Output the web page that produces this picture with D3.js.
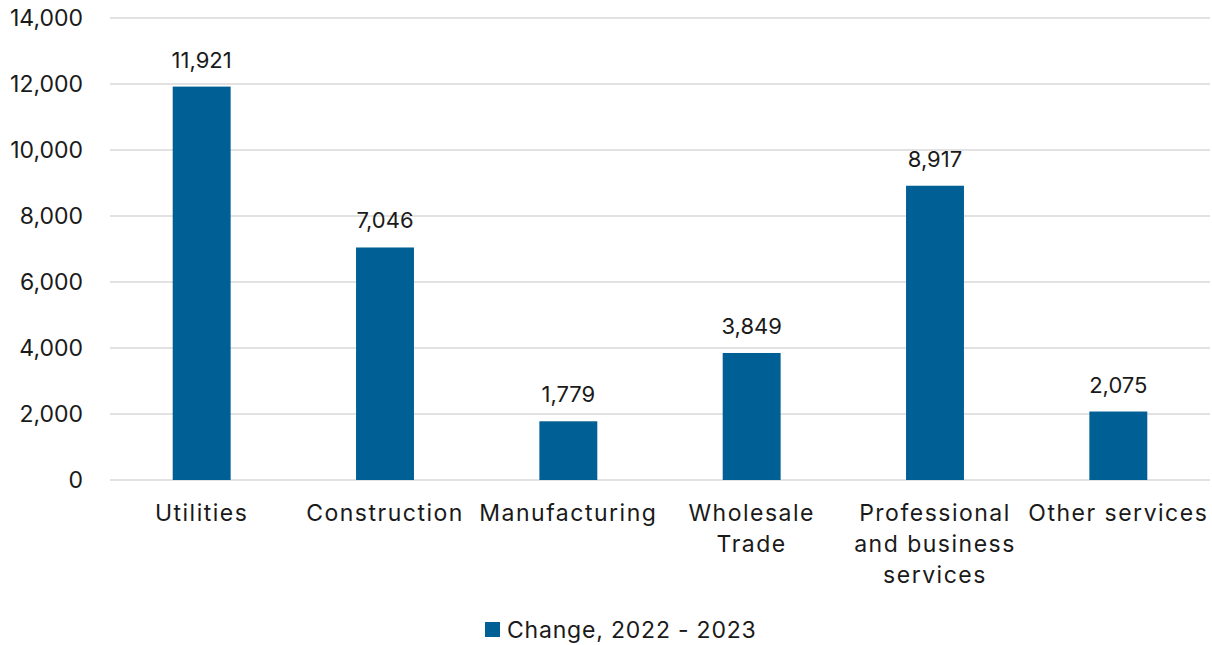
<!DOCTYPE html>
<html><head><meta charset="utf-8">
<script src="https://cdn.jsdelivr.net/npm/d3@7"></script>
<style>body{margin:0;background:#fff}svg{display:block}text{font-family:Inter,"Open Sans",sans-serif;fill:#1a1a1a}</style>
</head><body><svg id="c" width="1212" height="645"></svg>
<script>
const categories = [["Utilities"],["Construction"],["Manufacturing"],["Wholesale","Trade"],["Professional","and business","services"],["Other services"]];
const values = [11921, 7046, 1779, 3849, 8917, 2075];
const yTicks = [0,2000,4000,6000,8000,10000,12000,14000];
const seriesName = "Change, 2022 - 2023";
const color = "#005f95";

const svg = d3.select("#c");
const m = {l:110, r:2, t:18, b:165};
const W = 1212, H = 645;
const x = d3.scaleBand().domain(d3.range(categories.length)).range([m.l, W-m.r]).paddingInner(0.684).paddingOuter(0.342);
const y = d3.scaleLinear().domain([0,14000]).range([H-m.b, m.t]);
const fmt = d3.format(",");

svg.append("g").selectAll("line").data(yTicks).join("line")
  .attr("x1", m.l).attr("x2", W-m.r).attr("y1", d=>y(d)).attr("y2", d=>y(d))
  .attr("stroke", "#d9d9d9").attr("stroke-width", 1.5);

const ya = svg.append("g").attr("transform",`translate(${m.l},0)`)
  .call(d3.axisLeft(y).tickValues(yTicks).tickFormat(fmt).tickSize(0).tickPadding(27));
ya.select(".domain").remove();
ya.selectAll("text").style("font-size","23px").style("font-family","Inter, 'Open Sans', sans-serif").attr("fill","#1a1a1a");

svg.append("g").selectAll("rect").data(values).join("rect")
  .attr("x",(d,i)=>x(i)).attr("width",x.bandwidth())
  .attr("y",d=>y(d)).attr("height",d=>y(0)-y(d)).attr("fill",color);

svg.append("g").selectAll("text").data(values).join("text")
  .attr("x",(d,i)=>x(i)+x.bandwidth()/2).attr("y",d=>y(d)-19)
  .attr("text-anchor","middle").style("font-size","22px").text(d=>fmt(d));

const xl = svg.append("g");
categories.forEach((lines,i)=>{
  const t = xl.append("text").attr("text-anchor","middle").style("font-size","23px").style("letter-spacing","1.5px")
    .attr("x", x(i)+x.bandwidth()/2).attr("y", y(0)+41);
  lines.forEach((ln,j)=>t.append("tspan").attr("x", x(i)+x.bandwidth()/2).attr("dy", j?31:0).text(ln));
});

const lg = svg.append("g");
lg.append("rect").attr("x",485).attr("y",622).attr("width",15).attr("height",15).attr("fill",color);
lg.append("text").attr("x",507).attr("y",638).style("font-size","23px").style("letter-spacing","0.8px").text(seriesName);
</script></body></html>
